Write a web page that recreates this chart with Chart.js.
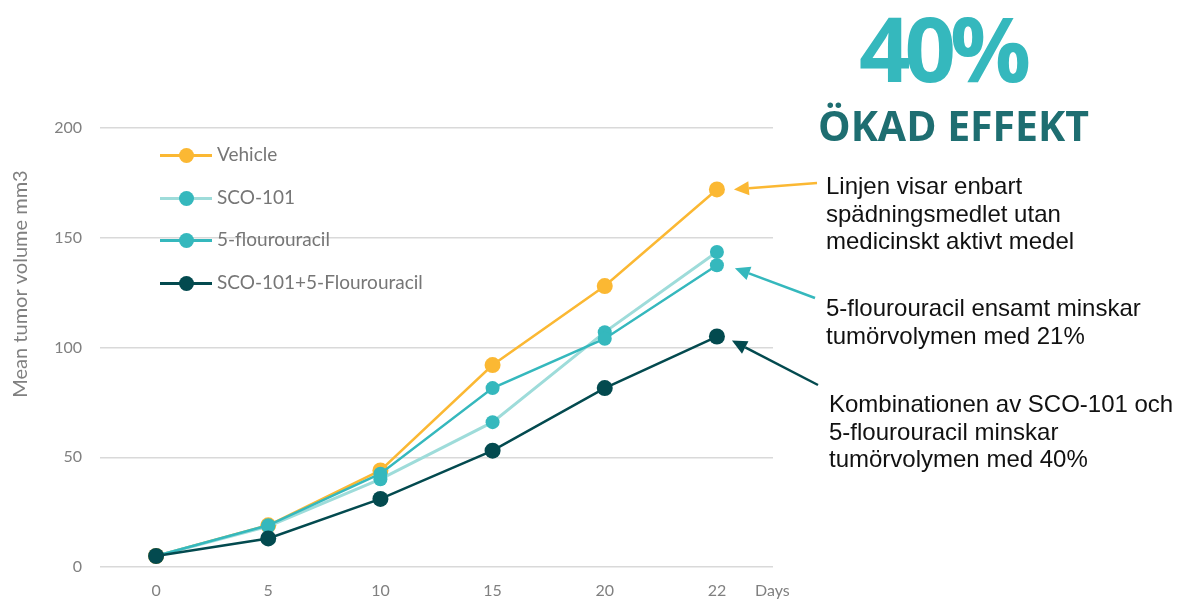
<!DOCTYPE html>
<html>
<head>
<meta charset="utf-8">
<script src="https://cdn.jsdelivr.net/npm/chart.js@4/dist/chart.umd.min.js"></script>
<style>
  html, body { margin: 0; padding: 0; background: #fff; }
  #wrap { position: relative; width: 1184px; height: 599px; overflow: hidden; }
  #chart { position: absolute; left: 0; top: 0; }
  .legend { position: absolute; left: 160px; top: 134px; font-family: Lato, 'Open Sans', sans-serif; font-size: 19px; color: #767676; }
  .legend .item { position: relative; height: 42.5px; }
  .legend .ln { position: absolute; left: 0; top: 20px; width: 52px; height: 3px; }
  .legend .dot { position: absolute; left: 19px; top: 14px; width: 15px; height: 15px; border-radius: 50%; }
  .legend .lbl { position: absolute; left: 57px; top: 8px; white-space: nowrap; }
  .note { position: absolute; font-family: 'Liberation Sans', Arial, sans-serif; font-size: 24px; line-height: 27.5px; color: #111; white-space: nowrap; }
  .big { position: absolute; left: 859px; top: -14px; font-family: 'Open Sans', sans-serif; font-weight: 700; font-size: 90px; letter-spacing: -6px; color: #35b8bd; }
  .sub { position: absolute; left: 818px; top: 97px; font-family: 'Open Sans', sans-serif; font-weight: 700; font-size: 41px; color: #1e6e71; white-space: nowrap; }
</style>
</head>
<body>
<div id="wrap">
  <canvas id="chart" width="1184" height="599"></canvas>
  <div class="legend" id="legend"></div>
  <div class="big">40%</div>
  <div class="sub">ÖKAD EFFEKT</div>
  <div class="note" style="left:826px; top:172px;">Linjen visar enbart<br>spädningsmedlet utan<br>medicinskt aktivt medel</div>
  <div class="note" style="left:826px; top:294px;">5-flourouracil ensamt minskar<br>tumörvolymen med 21%</div>
  <div class="note" style="left:829px; top:390px;">Kombinationen av SCO-101 och<br>5-flourouracil minskar<br>tumörvolymen med 40%</div>
</div>
<script>
// data
const days = ['0', '5', '10', '15', '20', '22'];
const vehicle = [5, 19, 44, 92, 128, 172];
const sco101 = [5, 18.5, 40, 66, 107, 143.5];
const fluoro = [5, 19, 42.5, 81.5, 104, 137.5];
const combo = [5, 13, 31, 53, 81.5, 105];

const seriesNames = ['Vehicle', 'SCO-101', '5-flourouracil', 'SCO-101+5-Flourouracil'];
const lineColors = ['#fbb833', '#9edcda', '#35b8bd', '#034a4f'];
const dotColors = ['#fbb833', '#35b8bd', '#35b8bd', '#034a4f'];
const dotSizes = [8, 7, 7, 8];

const axisGrey = '#808080';
const fontFam = 'Lato, "Open Sans", sans-serif';
const tickFont = { family: fontFam, size: 16 };

// legend built from the series lists
const legend = document.getElementById('legend');
seriesNames.forEach((name, i) => {
  const item = document.createElement('div');
  item.className = 'item';
  item.innerHTML = `<div class="ln" style="background:${lineColors[i]}"></div>` +
    `<div class="dot" style="background:${dotColors[i]}"></div>` +
    `<div class="lbl">${name}</div>`;
  legend.appendChild(item);
});

// arrows from the notes to the last points
const arrows = [
  { ds: 0, color: '#fbb833', from: [817, 183], dx: 17, dy: 0 },
  { ds: 2, color: '#35b8bd', from: [815, 298], dx: 18, dy: 3 },
  { ds: 3, color: '#034a4f', from: [818, 385], dx: 15, dy: 4 }
];
const arrowPlugin = {
  id: 'arrows',
  afterDraw(chart) {
    const ctx = chart.ctx;
    const x = chart.scales.x, y = chart.scales.y;
    ctx.save();
    ctx.fillStyle = axisGrey;
    // "Days" axis label
    ctx.font = '16px ' + fontFam;
    ctx.textBaseline = 'middle';
    ctx.fillText('Days', 755, 591);
    // y axis title, sits above the middle like in the original
    ctx.save();
    ctx.translate(21, 284);
    ctx.rotate(-Math.PI / 2);
    ctx.textAlign = 'center';
    ctx.font = '20px ' + fontFam;
    ctx.fillText('Mean tumor volume mm3', 0, 0);
    ctx.restore();
    arrows.forEach(a => {
      const data = chart.data.datasets[a.ds].data;
      const last = data.length - 1;
      const tx = x.getPixelForValue(last) + a.dx;
      const ty = y.getPixelForValue(data[last]) + a.dy;
      const ang = Math.atan2(ty - a.from[1], tx - a.from[0]);
      const len = 15, w = 7;
      const bx = tx - len * Math.cos(ang), by = ty - len * Math.sin(ang);
      ctx.strokeStyle = a.color;
      ctx.fillStyle = a.color;
      ctx.lineWidth = 2.5;
      ctx.beginPath();
      ctx.moveTo(a.from[0], a.from[1]);
      ctx.lineTo(bx, by);
      ctx.stroke();
      ctx.beginPath();
      ctx.moveTo(tx, ty);
      ctx.lineTo(bx + w * Math.sin(ang), by - w * Math.cos(ang));
      ctx.lineTo(bx - w * Math.sin(ang), by + w * Math.cos(ang));
      ctx.closePath();
      ctx.fill();
    });
    ctx.restore();
  }
};

const allSeries = [vehicle, sco101, fluoro, combo];
new Chart(document.getElementById('chart').getContext('2d'), {
  type: 'line',
  data: {
    labels: days,
    datasets: allSeries.map((vals, i) => ({
      label: seriesNames[i],
      data: vals,
      borderColor: lineColors[i],
      backgroundColor: dotColors[i],
      pointBackgroundColor: dotColors[i],
      pointBorderColor: dotColors[i],
      pointRadius: dotSizes[i],
      pointBorderWidth: 0,
      borderWidth: i === 1 ? 3 : 2.5,
      tension: 0,
      order: 4 - i
    }))
  },
  options: {
    responsive: false,
    animation: false,
    layout: { padding: { left: 0, top: 128, right: 411, bottom: 0 } },
    plugins: { legend: { display: false }, tooltip: { enabled: false } },
    scales: {
      x: {
        offset: true,
        grid: { display: false, drawTicks: false },
        border: { display: false },
        ticks: { color: axisGrey, font: tickFont, padding: 14 },
        afterFit(scale) { scale.height = 32; }
      },
      y: {
        min: 0,
        max: 200,
        ticks: { stepSize: 50, color: axisGrey, font: tickFont, padding: 18 },
        grid: { color: '#d9d9d9', lineWidth: 1.5, drawTicks: false },
        border: { display: false },
        afterFit(scale) { scale.width = 100; }
      }
    }
  },
  plugins: [arrowPlugin]
});
</script>
</body>
</html>
